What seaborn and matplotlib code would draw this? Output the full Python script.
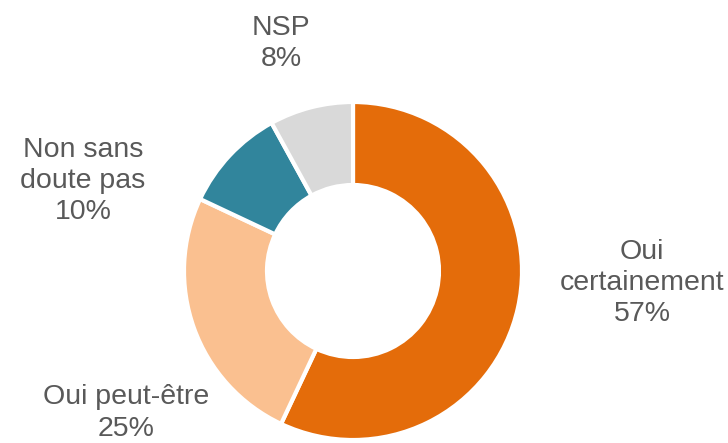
#!/usr/bin/env python3
"""Donut chart: Oui certainement / Oui peut-être / Non sans doute pas / NSP."""

import matplotlib
matplotlib.use("Agg")
import matplotlib.pyplot as plt
import seaborn as sns

sns.set_theme(style="white")
plt.rcParams['font.family'] = ['Liberation Sans', 'DejaVu Sans']

# data
categories = ['Oui\ncertainement', 'Oui peut-être', 'Non sans\ndoute pas', 'NSP']
values = [57, 25, 10, 8]
colors = ['#E46C0A', '#FAC090', '#31859C', '#D9D9D9']

fig = plt.figure(figsize=(7.28, 4.43), dpi=100)
ax = fig.add_axes([0, 0, 1, 1])

ax.pie(values, colors=colors, startangle=90, counterclock=False,
       center=(353, 172), radius=169,
       wedgeprops=dict(width=83, edgecolor='white', linewidth=3))

# pie() resets the limits, so set the pixel frame afterwards
ax.set_xlim(0, 728)
ax.set_ylim(0, 443)
ax.set_aspect('equal')
ax.axis('off')

# label positions (pixel layout)
label_pos = [(642, 160), (126, 30), (83, 262), (281, 400)]
for cat, val, (x, y) in zip(categories, values, label_pos):
    ax.text(x, y, f'{cat}\n{val}%', ha='center', va='center',
            fontsize=20.5, color='#595959', linespacing=1.25)

plt.savefig('out.png', dpi=100)
